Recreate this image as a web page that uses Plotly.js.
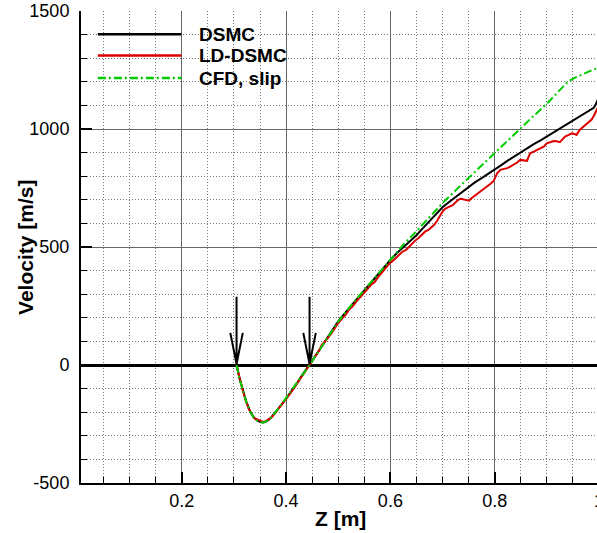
<!DOCTYPE html>
<html><head><meta charset="utf-8">
<script src="https://cdn.plot.ly/plotly-3.0.1.min.js"></script>
<style>html,body{margin:0;padding:0;overflow:hidden;background:#fff}#chart{width:600px;height:533px}</style>
</head><body><div id="chart"></div>
<script>
// ---- data ----
const seriesNames = ['DSMC', 'LD-DSMC', 'CFD, slip'];

const dsmcZ = [0.305,0.311,0.318,0.324,0.331,0.338,0.345,0.351,0.357,0.363,0.370,0.377,0.385,0.393,0.400,0.408,0.415,0.422,0.429,0.437,0.445,0.455,0.465,0.475,0.487,0.500,0.512,0.525,0.538,0.550,0.562,0.575,0.588,0.600,0.612,0.625,0.638,0.650,0.662,0.675,0.688,0.700,0.712,0.725,0.738,0.750,0.762,0.775,0.788,0.800,0.812,0.825,0.838,0.850,0.862,0.875,0.888,0.900,0.912,0.925,0.938,0.950,0.962,0.975,0.985,0.990,0.994,0.997,1.000];
const dsmcV = [0,-60,-112,-157,-196,-222,-236,-242,-244,-238,-226,-208,-186,-163,-142,-118,-97,-73,-49,-24,0,33,67,101,142,185,218,252,283,314,348,382,414,445,473,500,524,550,579,610,640,668,690,712,736,756,774,792,810,828,846,866,885,903,919,936,952,968,983,1000,1020,1037,1052,1068,1080,1090,1105,1120,1135];

const ldZ = [0.305,0.310,0.316,0.322,0.328,0.334,0.340,0.346,0.351,0.356,0.361,0.366,0.372,0.378,0.385,0.392,0.399,0.406,0.413,0.420,0.427,0.434,0.440,0.445,0.451,0.457,0.463,0.468,0.474,0.480,0.487,0.494,0.500,0.507,0.514,0.521,0.528,0.535,0.542,0.549,0.556,0.563,0.570,0.577,0.584,0.591,0.598,0.604,0.610,0.617,0.623,0.630,0.636,0.643,0.648,0.654,0.661,0.667,0.673,0.679,0.684,0.690,0.695,0.700,0.705,0.709,0.714,0.719,0.725,0.730,0.735,0.740,0.744,0.751,0.755,0.760,0.766,0.773,0.779,0.786,0.792,0.798,0.802,0.805,0.811,0.817,0.824,0.830,0.836,0.843,0.849,0.855,0.862,0.865,0.868,0.875,0.881,0.888,0.894,0.900,0.906,0.913,0.919,0.925,0.930,0.935,0.942,0.948,0.953,0.957,0.963,0.970,0.976,0.981,0.986,0.990,0.993,0.996,1.000];
const ldV = [0,-48,-100,-146,-184,-210,-226,-232,-236,-241,-238,-232,-222,-207,-188,-167,-147,-127,-106,-84,-60,-38,-16,0,20,38,60,84,98,114,134,158,178,196,212,235,250,270,286,304,322,340,352,374,394,410,430,440,454,466,480,488,502,517,528,538,552,566,572,584,594,612,632,650,662,668,672,676,690,700,704,702,699,696,706,714,724,735,744,756,768,780,800,813,827,830,834,841,848,858,869,866,865,882,897,904,911,918,925,939,944,949,948,944,956,968,975,982,979,975,996,1010,1024,1030,1040,1055,1070,1087,1100];

const cfdZ = [0.305,0.311,0.318,0.324,0.331,0.338,0.345,0.351,0.357,0.363,0.370,0.377,0.385,0.393,0.400,0.410,0.420,0.430,0.445,0.460,0.475,0.490,0.500,0.525,0.550,0.575,0.600,0.625,0.650,0.675,0.700,0.725,0.750,0.775,0.800,0.825,0.850,0.875,0.900,0.920,0.940,0.950,0.960,0.970,0.980,0.990,1.000];
const cfdV = [0,-62,-113,-158,-197,-223,-237,-243,-244,-238,-226,-208,-185,-161,-140,-109,-78,-47,0,50,100,150,184,254,318,384,450,510,567,627,686,740,793,847,900,952,1004,1056,1107,1155,1200,1213,1224,1234,1243,1252,1261];

const xTickVals = [0.2, 0.4, 0.6, 0.8, 1.0];
const xTickText = ['0.2', '0.4', '0.6', '0.8', '1'];
const yTickVals = [-500, 0, 500, 1000, 1500];
const yTickText = ['-500', '0', '500', '1000', '1500'];

// zero crossings marked by arrows
const arrowZ = [0.305, 0.445];

// ---- styling ----
const FONT = 'Liberation Sans, Arial, sans-serif';
const colors = ['#000000', '#dd0000', '#00cc00'];
const dashes = ['solid', 'solid', '8px,3px,2px,3px'];

const traces = [
  {x: dsmcZ, y: dsmcV},
  {x: ldZ, y: ldV},
  {x: cfdZ, y: cfdV}
].map((d, i) => ({
  x: d.x, y: d.y, type: 'scatter', mode: 'lines', name: seriesNames[i],
  line: {color: colors[i], width: 2, dash: dashes[i]}, showlegend: false
}));

const shapes = [];
const annotations = [];
// custom legend (long sample lines, no box)
const legY = [1402, 1311, 1216];
seriesNames.forEach((n, i) => {
  shapes.push({type: 'line', xref: 'x', yref: 'y', x0: 0.039, x1: 0.199, y0: legY[i], y1: legY[i],
    line: {color: colors[i], width: 2.5, dash: dashes[i]}});
  annotations.push({xref: 'x', yref: 'y', x: 0.229, y: legY[i], text: n, showarrow: false,
    xanchor: 'left', yanchor: 'middle', font: {family: FONT, size: 19, color: '#000', weight: 'bold'}});
});
// arrows
arrowZ.forEach(z => {
  const dz = 0.012;
  shapes.push({type: 'path', xref: 'x', yref: 'y',
    path: `M ${z},289 L ${z},4 M ${z - dz},136 L ${z},4 L ${z + dz},136`,
    line: {color: '#000', width: 2}});
});
// axis titles
annotations.push({xref: 'paper', yref: 'paper', x: 0.5, y: -0.075, text: 'Z [m]', showarrow: false,
  xanchor: 'center', yanchor: 'middle', font: {family: FONT, size: 21, color: '#000', weight: 'bold'}});
annotations.push({xref: 'paper', yref: 'paper', x: -0.108, y: 0.5, text: 'Velocity [m/s]', showarrow: false,
  textangle: -90, xanchor: 'center', yanchor: 'middle', font: {family: FONT, size: 21, color: '#000', weight: 'bold'}});

const minorGrid = {showgrid: true, gridcolor: '#777', griddash: '1px,2px', gridwidth: 1,
  ticks: 'inside', ticklen: 6, tickwidth: 1, tickcolor: '#000'};

const layout = {
  width: 600, height: 533,
  margin: {l: 81, r: 0, t: 11, b: 50, pad: 0},
  paper_bgcolor: '#fff', plot_bgcolor: '#fff',
  showlegend: false,
  xaxis: {
    range: [0.0067, 1.002], tickmode: 'array', tickvals: xTickVals, ticktext: xTickText,
    ticks: 'inside', ticklen: 11, tickwidth: 2, tickcolor: '#000',
    showline: true, linewidth: 2, linecolor: '#000',
    showgrid: true, gridcolor: '#666', gridwidth: 1, zeroline: false,
    minor: Object.assign({tickmode: 'linear', tick0: 0, dtick: 0.05}, minorGrid),
    tickfont: {family: FONT, size: 18, color: '#000'}, ticklabelstandoff: 0,
    ticklabeloverflow: 'allow'
  },
  yaxis: {
    range: [-500, 1500], tickmode: 'array', tickvals: yTickVals, ticktext: yTickText,
    ticks: 'inside', ticklen: 11, tickwidth: 2, tickcolor: '#000',
    showline: true, linewidth: 2, linecolor: '#000',
    showgrid: true, gridcolor: '#666', gridwidth: 1,
    zeroline: true, zerolinecolor: '#000', zerolinewidth: 3,
    minor: Object.assign({tickmode: 'linear', tick0: 0, dtick: 100}, minorGrid),
    tickfont: {family: FONT, size: 18, color: '#000'}, ticklabelstandoff: 6
  },
  shapes: shapes,
  annotations: annotations
};

Plotly.newPlot('chart', traces, layout, {staticPlot: true, displayModeBar: false});
</script>
</body></html>
